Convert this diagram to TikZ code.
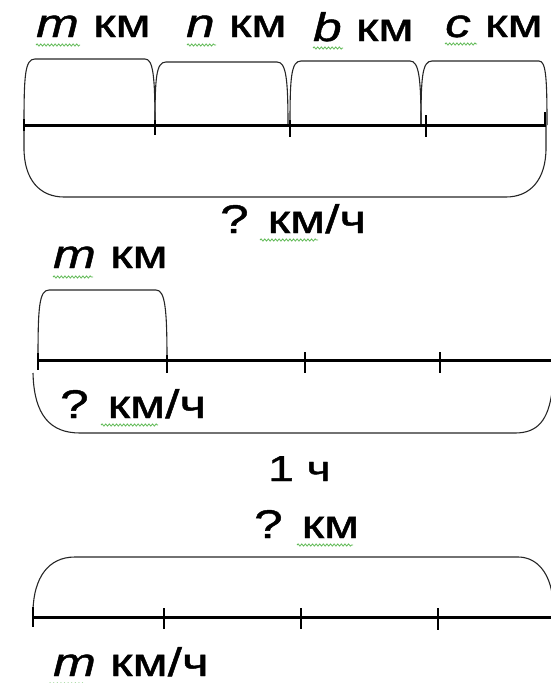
\documentclass[tikz,border=0pt]{standalone}
\usepackage{fontspec}
\newfontfamily\lab[FakeStretch=1.28,FakeBold=1.2]{Liberation Sans}
\usetikzlibrary{decorations.pathmorphing}
\definecolor{spell}{RGB}{95,185,85}
\tikzset{
  axisline/.style={line width=3pt},
  tickmark/.style={line width=1.4pt},
  bracket/.style={line width=1.1pt, black!85},
  txt/.style={inner sep=0pt, anchor=base west, font=\lab\fontsize{40}{40}\selectfont},
  txtsmall/.style={inner sep=0pt, anchor=base west, font=\lab\fontsize{36}{36}\selectfont},
  squiggle/.style={spell, line width=0.8pt, decorate, decoration={snake, amplitude=1.1pt, segment length=3.6pt}}
}
\begin{document}
\begin{tikzpicture}[x=1pt,y=-1pt]
\useasboundingbox (0,0) rectangle (551,683);
\clip (0,0) rectangle (551,683);

% ---------- section 1 ----------
\node[txt] (l1m) at (36,37) {\textit{m} км};
\node[txt] (l1n) at (186,37) {\textit{n} км};
\node[txt] (l1b) at (313,41) {\textit{b} км};
\node[txt] (l1c) at (445,37) {\textit{c} км};
\draw[squiggle] (36,45) -- (80,45);
\draw[squiggle] (187,45) -- (216,45);
\draw[squiggle] (313,48) -- (343,48);
\draw[squiggle] (445,44) -- (477,44);

\draw[bracket] (24,125) .. controls (24,75) and (25,59) .. (35,59) -- (145,59) .. controls (153,59) and (155,75) .. (155,125);
\draw[bracket] (155,125) .. controls (155,78) and (156,62) .. (166,62) -- (277,62) .. controls (286,62) and (288,78) .. (288,125);
\draw[bracket] (290,125) .. controls (290,78) and (291,61) .. (301,61) -- (410,61) .. controls (419,61) and (421,78) .. (421,125);
\draw[bracket] (421,125) .. controls (421,78) and (422,61) .. (432,61) -- (539,61) .. controls (546,61) and (547,78) .. (547,125);
\draw[bracket] (24,125) -- (24,148) .. controls (24,180) and (40,197) .. (64,197) -- (506,197) .. controls (530,197) and (546,180) .. (546,148) -- (546,125);

\draw[axisline] (24,125) -- (546,125);
\draw[tickmark] (24,119) -- (24,131);
\draw[tickmark] (155,120) -- (155,135);
\draw[tickmark] (290,120) -- (290,137);
\draw[tickmark] (426,115) -- (426,137);
\draw[tickmark] (545,112) -- (545,127);

\node[txt] (l1q) at (220,233) {? км/ч};
\draw[squiggle] (260,240) -- (318,240);

% ---------- section 2 ----------
\node[txt] (l2m) at (53,268) {\textit{m} км};
\draw[squiggle] (53,277) -- (93,277);

\draw[bracket] (38,360) .. controls (38,308) and (39,290) .. (49,290) -- (156,290) .. controls (165,290) and (167,308) .. (167,360);
\draw[bracket] (33,373) .. controls (34,415) and (50,433) .. (80,433) -- (515,433) .. controls (538,433) and (548,420) .. (552,392);

\draw[axisline] (38,360) -- (551,360);
\draw[tickmark] (38,353) -- (38,370);
\draw[tickmark] (167,355) -- (167,373);
\draw[tickmark] (305,352) -- (305,373);
\draw[tickmark] (440,352) -- (440,373);

\node[txt] (l2q) at (60,418) {? км/ч};
\draw[squiggle] (101,425) -- (158,425);

% ---------- section 3 ----------
\node[txtsmall] (l3h) at (268,481) {1 ч};
\node[txt] (l3q) at (254,538) {? км};
\draw[squiggle] (297,545) -- (353,545);

\draw[bracket] (33,610) .. controls (34,578) and (48,557) .. (75,557) -- (518,557) .. controls (535,557) and (548,570) .. (552,593);

\draw[axisline] (33,617) -- (551,617);
\draw[tickmark] (33,607) -- (33,627);
\draw[tickmark] (164,608) -- (164,629);
\draw[tickmark] (301,608) -- (301,629);
\draw[tickmark] (438,608) -- (438,630);

\node[txt] (l3m) at (53,676) {\textit{m} км/ч};
\draw[squiggle] (49,684) -- (86,684);
\end{tikzpicture}
\end{document}
